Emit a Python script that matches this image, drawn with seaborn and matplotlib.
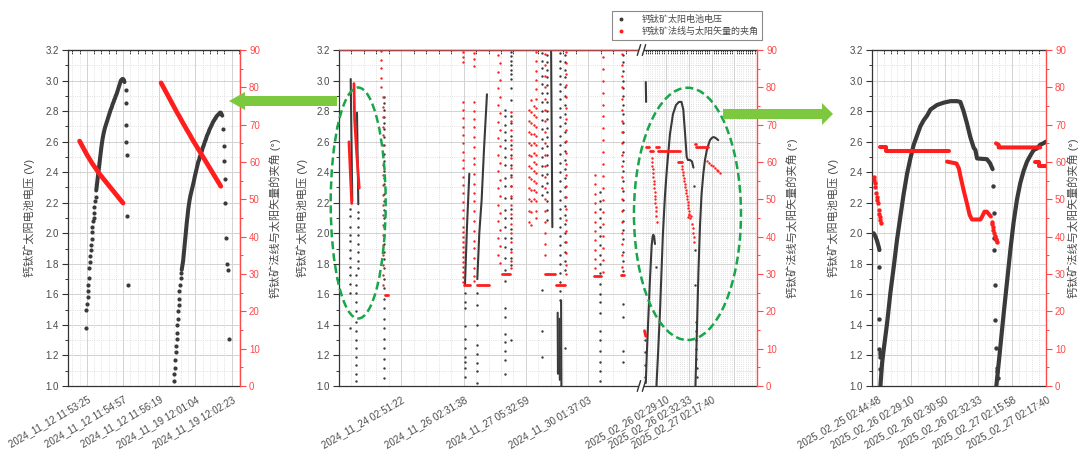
import numpy as np
import matplotlib
matplotlib.use("Agg")
import matplotlib.pyplot as plt
import matplotlib.transforms as mtransforms
import seaborn as sns
from matplotlib.lines import Line2D
from matplotlib.patches import Ellipse, Polygon, Rectangle
from matplotlib.ticker import MultipleLocator, FormatStrFormatter

sns.set_style("white")
plt.rcParams["font.family"] = ["Liberation Sans", "Noto Sans CJK SC"]
plt.rcParams["axes.unicode_minus"] = False

VOLT_LABEL = "钙钛矿太阳电池电压 (V)"
ANGLE_LABEL = "钙钛矿法线与太阳矢量的夹角 (°)"
LEGEND_LABELS = ["钙钛矿太阳电池电压", "钙钛矿法线与太阳矢量的夹角"]

# ---------------- panel 1: 2024-11-12 and 2024-11-19 passes ----------------
p1_ticks = [10, 20, 30, 40, 50]
p1_labels = ["2024_11_12 11:53:25", "2024_11_12 11:54:57", "2024_11_12 11:56:19",
             "2024_11_19 12:01:04", "2024_11_19 12:02:23"]

p1_a_low_x = [9.81, 9.81, 10.0, 10.19, 10.37, 10.37, 10.56, 10.56, 10.74, 10.93, 11.11,
              11.11, 11.30, 11.30, 11.48, 11.67, 11.85, 11.85, 12.04, 12.22, 12.41]
p1_a_low_v = [1.38, 1.50, 1.54, 1.585, 1.62, 1.66, 1.705, 1.77, 1.81, 1.85, 1.89,
              1.92, 1.96, 2.01, 2.04, 2.08, 2.10, 2.135, 2.17, 2.21, 2.24]
p1_a_start, p1_step = 12.6, 0.2
p1_a_v = [2.28, 2.32, 2.36, 2.40, 2.44, 2.48, 2.52, 2.56, 2.595, 2.625,
          2.65, 2.67, 2.69, 2.705, 2.72, 2.735, 2.75, 2.765, 2.78, 2.795,
          2.81, 2.82, 2.835, 2.85, 2.86, 2.875, 2.885, 2.90, 2.91, 2.925,
          2.94, 2.955, 2.97, 2.985, 3.0, 3.005, 3.01, 3.01, 3.005, 2.99]
p1_a_drop_x = [20.74, 20.83, 20.83, 20.93, 21.11, 21.20, 21.48]
p1_a_drop_v = [2.94, 2.85, 2.71, 2.60, 2.51, 2.11, 1.66]

p1_b_low_x = [34.07, 34.17, 34.35, 34.44, 34.54, 34.72, 34.81, 34.91, 35.0, 35.09,
              35.19, 35.37, 35.46, 35.56, 35.74, 35.93, 36.11]
p1_b_low_v = [1.03, 1.08, 1.12, 1.17, 1.22, 1.26, 1.305, 1.35, 1.40, 1.44,
              1.49, 1.53, 1.57, 1.62, 1.66, 1.705, 1.74]
p1_b_start = 36.2
p1_b_v = [1.76, 1.79, 1.82, 1.87, 1.92, 1.97, 2.02, 2.07, 2.11, 2.155,
          2.19, 2.22, 2.245, 2.265, 2.285, 2.305, 2.325, 2.345, 2.37, 2.39,
          2.41, 2.43, 2.45, 2.47, 2.48, 2.50, 2.51, 2.53, 2.54, 2.56,
          2.57, 2.585, 2.60, 2.61, 2.625, 2.64, 2.65, 2.66, 2.675, 2.685,
          2.695, 2.705, 2.715, 2.725, 2.735, 2.74, 2.75, 2.755, 2.765, 2.77,
          2.775, 2.78, 2.785, 2.79, 2.79, 2.78, 2.77]
p1_b_drop_x = [47.69, 47.87, 47.96, 48.06, 48.15, 48.33, 48.70, 48.89, 49.17]
p1_b_drop_v = [2.68, 2.57, 2.47, 2.355, 2.20, 1.97, 1.80, 1.76, 1.31]

p1_ra_start, p1_r_step = 8.0, 0.5
p1_ra_a = [65.6, 64.7, 63.8, 62.9, 62.0, 61.2, 60.4, 59.6, 58.9, 58.2, 57.5, 56.8, 56.2,
           55.6, 55.0, 54.4, 53.8, 53.2, 52.6, 52.0, 51.4, 50.8, 50.2, 49.6, 49.0]
p1_rb_start = 30.5
p1_rb_a = [81.2, 80.3, 79.4, 78.5, 77.6, 76.7, 75.8, 74.9, 74.0, 73.1, 72.3, 71.4,
           70.5, 69.7, 68.8, 68.0, 67.2, 66.3, 65.5, 64.7, 63.9, 63.1, 62.3, 61.5,
           60.7, 59.9, 59.1, 58.3, 57.5, 56.7, 55.9, 55.1, 54.3, 53.5]

# ---------------- panel 2: overview with broken time axis ----------------
p2_ticks = [0, 100, 200, 300, 400, 525, 561.5, 598, 634.5, 671]
p2_labels = ["", "2024_11_24 02:51:22", "2024_11_26 02:31:38", "2024_11_27 05:32:59",
             "2024_11_30 01:37:03", "2025_02_26 02:29:10", "2025_02_26 02:32:33",
             "2025_02_27 02:17:40", "", ""]

# voltage columns (position, values)
mid_bcol_pos = [17, 30.5, 27.5, 73, 201.5, 222, 266, 276, 326, 334, 355, 363, 419, 456]
bc01 = [2.16, 2.11, 2.04, 1.99, 1.95, 1.89, 1.84, 1.78, 1.73, 1.67, 1.61, 1.38]
bc02 = [2.14, 2.10, 2.04, 1.99, 1.93, 1.88, 1.82, 1.77]
bc03 = [1.73, 1.66, 1.61, 1.55, 1.49, 1.42, 1.36, 1.30, 1.25, 1.19, 1.14, 1.08, 1.03]
bc04 = [2.89, 2.85, 2.81, 2.76, 2.72, 2.68, 2.63, 2.58, 2.52, 2.47, 2.41, 2.36, 2.32,
        2.26, 2.21, 2.15, 2.10, 2.04, 1.99, 1.93, 1.88, 1.83, 1.77, 1.70, 1.64, 1.57,
        1.51, 1.44, 1.38, 1.31, 1.25, 1.18, 1.12, 1.05]
bc05 = [1.61, 1.55, 1.51, 1.39, 1.31, 1.25, 1.19, 1.16, 1.12, 1.06]
bc06 = [1.61, 1.53, 1.40, 1.27, 1.21, 1.15, 1.10, 1.02]
bc07 = [2.81, 2.77, 2.71, 2.66, 2.61, 2.56, 2.50, 2.45, 2.36, 2.31, 2.23, 2.15, 2.10,
        2.04, 1.97, 1.91, 1.84, 1.76, 1.69, 1.51, 1.45, 1.34, 1.29, 1.23, 1.17, 1.08]
bc08 = [3.19, 3.16, 3.13, 3.10, 3.07, 3.04, 3.01, 2.95, 2.87, 2.77, 2.72, 2.64, 2.58,
        2.51, 2.45, 2.38, 2.31, 2.23, 2.16, 2.10, 2.03, 1.97, 1.90, 1.84, 1.79, 1.30]
bc09 = [3.18, 3.13, 3.08, 3.03, 2.98, 2.92, 2.86, 2.80, 2.74, 2.68, 2.62, 2.56, 2.50,
        2.44, 2.38, 2.31, 2.25, 1.63, 1.36, 1.19]
bc10 = [3.17, 3.12, 3.07, 3.02, 2.97, 2.92, 2.86, 2.80, 2.75, 2.69, 2.63, 2.57, 2.51,
        2.45, 2.39, 2.33, 2.27, 2.21, 2.15, 2.09]
bc11 = [3.18, 3.13, 3.08, 3.03, 2.98, 2.93, 2.88, 2.82, 2.76, 2.70, 2.64, 2.58, 2.52,
        2.46, 2.40, 2.34, 2.28, 2.22, 2.16, 2.10, 2.04, 1.98, 1.92, 1.86, 1.80, 1.74,
        1.68, 1.62, 1.56, 1.25, 1.19]
bc12 = [3.17, 3.12, 3.07, 3.02, 2.96, 2.90, 2.84, 2.78, 2.72, 2.66, 2.60, 2.54, 2.48,
        2.42, 2.36, 2.30, 2.24, 2.18, 2.12, 2.06, 2.00, 1.94, 1.88, 1.82, 1.76, 1.25]
bc13 = [2.27, 2.21, 2.16, 2.10, 2.04, 1.98, 1.92, 1.86, 1.80, 1.74, 1.67, 1.60, 1.55,
        1.48, 1.36, 1.30, 1.23, 1.16, 1.10, 1.03]
bc14 = [3.17, 3.12, 3.06, 3.00, 2.95, 2.90, 2.84, 2.78, 2.72, 2.66, 2.60, 2.53, 2.47,
        2.41, 2.34, 2.28, 2.22, 2.15, 2.08, 2.02, 1.96, 1.88, 1.82, 1.75, 1.54, 1.45,
        1.23, 1.16]

# dense voltage runs
mid_bl1_x, mid_bl1_v = [18.8, 21.3], [3.01, 2.21]
mid_bl2_x, mid_bl2_v = [28.9, 31.0], [2.79, 2.19]
mid_bl3_x, mid_bl3_v = [202.2, 205.5, 209.2], [1.66, 2.05, 2.39]
mid_bl4_x, mid_bl4_v = [222, 225.2, 229, 232.7, 237, 237.5], [1.70, 2.0, 2.22, 2.545, 2.87, 2.91]
mid_bl5_x, mid_bl5_v = [340.5, 342.5], [3.19, 2.04]
mid_bl6_x, mid_bl6_v = [351, 351.5], [1.48, 1.08]
mid_bl7_x, mid_bl7_v = [354, 354.5], [1.44, 1.04]
mid_bl8_x, mid_bl8_v = [356.5, 357], [1.56, 1.00]
mid_bl9_x, mid_bl9_v = [492.5, 493], [2.99, 2.86]
mid_hump_x = [492.5, 494, 496.5, 499.2, 501.9, 503.5, 504.5, 505.8, 507.2]
mid_hump_v = [1.02, 1.20, 1.44, 1.70, 1.92, 1.98, 1.99, 1.98, 1.93]
mid_arc2_x = [509.6, 512, 515.2, 517.7, 520, 523.3, 526.5, 531.3, 536.1, 541, 545.7,
              549.8, 552.7, 555.4, 558.1, 560, 563.4, 566.6, 569]
mid_arc2_v = [1.0, 1.2, 1.48, 1.75, 2.0, 2.25, 2.43, 2.65, 2.78, 2.84, 2.86,
              2.86, 2.81, 2.66, 2.50, 2.48, 2.48, 2.47, 2.43]
mid_arc3_x = [572.2, 573.8, 575.4, 577, 579.5, 581.9, 584.8, 587.5, 590.2, 593.1, 595.5,
              598.7, 601.1, 604.3, 608.8]
mid_arc3_v = [1.0, 1.25, 1.50, 1.75, 2.05, 2.25, 2.39, 2.48, 2.54, 2.58, 2.61,
              2.625, 2.63, 2.625, 2.61]
mid_bdots_x = [491.0, 491.3, 491.6, 491.9, 508.8, 570.0, 571.0, 571.5, 572.5, 573.0,
               573.2, 573.5, 573.8, 574.0, 574.2]
mid_bdots_v = [1.30, 1.22, 1.14, 1.06, 1.78, 2.31, 1.89, 1.66, 1.42, 1.36,
               1.30, 1.24, 1.18, 1.12, 1.06]

# angle columns (position, values)
mid_rcol_pos = [67, 71, 198.5, 217, 256, 258.5, 276.5, 305, 309, 313, 317, 331, 365, 411, 424, 454]
rc01 = [89.6, 87.3, 85.1, 82.4, 80.2]
rc02 = [77.5, 74.8, 72.1, 69.5, 67.2, 64.6, 61.9, 59.2, 56.5, 53.8, 51.2, 48.5, 45.8,
        43.1, 40.4, 37.8, 35.1, 32.4, 29.7, 27.0]
rc03 = [89.4, 88.0, 86.7, 76.2, 73.9, 71.7, 69.5, 67.2, 65.0, 62.8, 60.5, 58.3, 56.1,
        53.8, 51.6, 49.4, 47.1, 44.9, 42.7, 41.3, 40.0, 38.7, 37.3, 36.0, 34.6, 33.3,
        32.0, 30.6, 29.3, 27.9]
rc04 = [89.3, 87.5, 85.8, 76.0, 73.7, 71.5, 69.3, 66.6, 63.9, 61.2, 59.4, 56.7, 54.0,
        51.8, 49.5, 46.8, 44.1, 41.4, 38.8, 36.9, 34.2, 31.5, 29.5, 28.0]
rc05 = [88.6, 84.2, 79.7, 75.3, 70.8, 66.4, 61.9, 57.5, 53.0, 48.6, 44.1, 39.7, 35.2]
rc06 = [86.4, 82.0, 77.5, 73.1, 68.6, 64.2, 59.7, 55.3, 50.8, 46.4, 41.9, 37.5, 33.0]
rc07 = [73.5, 71.0, 68.5, 66.0, 63.5, 61.0, 58.5, 56.0, 53.5, 51.0, 48.5, 46.0, 43.5,
        41.0, 38.5, 36.0, 33.5, 31.5]
rc08 = [74.0, 71.0, 68.0, 65.0, 62.0, 59.0, 56.0, 53.0, 50.0, 47.0, 44.0]
rc09 = [76.5, 73.5, 70.5, 67.5, 64.5, 61.5, 58.5, 55.5, 52.5, 49.5, 46.5, 43.0]
rc10 = [75.0, 72.5, 70.0, 67.5, 65.0, 62.5, 60.0, 57.5, 55.0, 52.5, 50.0]
rc11 = [89.5, 87.0, 84.5, 82.0, 79.5, 77.0, 74.5, 72.0, 69.5, 67.0, 64.5, 62.0, 59.5,
        57.0, 54.5, 52.0, 49.5, 47.0, 45.0]
rc12 = [89.0, 86.0, 83.0, 80.0, 77.0, 74.0, 71.0, 68.0, 65.0, 62.0, 59.0, 56.0, 53.0,
        50.0, 47.0, 44.0, 41.0, 38.0, 35.0]
rc13 = [89.5, 86.5, 83.5, 80.5, 77.5, 74.5, 71.5, 68.5, 65.5, 62.5, 59.5, 56.5, 53.5,
        50.5, 47.5, 44.5, 41.5, 38.5, 35.5, 32.5, 30.0]
rc14 = [56.5, 54.0, 51.5, 49.0, 46.5, 44.0, 41.5, 39.0, 36.5, 34.0, 31.5]
rc15 = [88.2, 85.0, 81.8, 78.6, 75.4, 72.2, 69.0, 65.8, 62.6, 59.4, 56.2, 53.0, 49.8,
        46.6, 43.4, 40.2, 37.0, 33.8, 30.6]
rc16 = [89.0, 86.0, 83.0, 80.0, 77.0, 74.0, 71.0, 68.0, 65.0, 62.0, 59.0, 56.0, 53.0,
        50.0, 47.0, 44.0, 41.0, 38.0, 35.0, 32.0, 29.8]

# dense angle runs and flat stretches
mid_rl1_x, mid_rl1_a = [16, 20.4], [65.4, 48.9]
mid_rl2_x, mid_rl2_a = [24, 25, 28.5, 32.5], [81.0, 71.5, 62.0, 53.0]
mid_rl3_x, mid_rl3_a = [490.5, 492.5], [14.8, 13.3]
mid_rh_x0 = [74, 200, 221, 262, 331, 349, 410, 452, 492.8, 499.2, 508.8, 512.6, 544.6, 571.4, 573.5]
mid_rh_x1 = [79, 210, 240, 274, 346, 363, 421, 458, 498.2, 504.5, 514.2, 547.4, 550, 573.5, 593]
mid_rh_a = [24.5, 27.0, 27.0, 30.0, 30.0, 27.0, 29.5, 29.8, 64.1, 63.0, 64.1, 63.0, 60.1, 64.9, 63.9]
mid_rd1_x = [502, 502.5, 503, 503.5, 504, 504.5, 505, 505.5, 506, 506.5, 507, 507.5,
             508, 508.5, 509, 509.5, 510]
mid_rd1_a = [61.0, 60.0, 59.0, 58.0, 57.0, 56.0, 55.0, 54.0, 53.0, 52.0, 51.0, 50.0,
             49.0, 48.0, 47.0, 45.5, 44.0]
mid_rd2_x = [550.5, 551.25, 552, 552.75, 553.5, 554.25, 555, 555.75, 556.5, 557.25,
             558, 558.75, 559.5, 560.25, 561, 561.75, 562.5]
mid_rd2_a = [59.0, 58.2, 57.4, 56.6, 55.8, 55.0, 54.2, 53.4, 52.6, 51.8,
             51.0, 50.2, 49.4, 48.6, 47.8, 47.0, 46.2]
mid_rd3_x = [561, 562.5, 564, 565.5, 566.5, 567.5, 568.5, 569.5, 570.5]
mid_rd3_a = [45.2, 45.8, 45.0, 45.6, 43.5, 42.3, 41.0, 39.8, 38.7]
mid_rd4_x = [591, 594, 597, 600, 603, 606, 609, 611.5]
mid_rd4_a = [60.3, 59.8, 59.3, 58.8, 58.3, 57.9, 57.5, 57.1]

# ---------------- panel 3: 2025-02-25 .. 2025-02-27 passes ----------------
p3_ticks = [0, 10, 20, 30, 40, 50]
p3_labels = ["2025_02_25 02:44:48", "2025_02_26 02:29:10", "2025_02_26 02:30:50",
             "2025_02_26 02:32:33", "2025_02_27 02:15:58", "2025_02_27 02:17:40"]

p3_head_x, p3_head_v = [-1.0, -0.5, 0.0, 0.5, 0.7], [2.00, 1.98, 1.95, 1.91, 1.89]
p3_drop1_x = [0.5, 0.6, 0.7, 0.8, 0.9, 1.0, 0.75]
p3_drop1_v = [1.78, 1.44, 1.24, 1.22, 1.21, 1.19, 1.11]
p3_rise1_x = [0.99, 1.48, 1.97, 2.96, 3.94, 4.93, 5.92, 6.9, 7.89, 8.88, 9.86, 10.85,
              11.83, 12.8, 13.8, 14.8, 15.8, 17.75, 19.7, 21.7, 23.7, 24.65, 25.6,
              26.6, 27.6, 28.6, 29.1, 29.6, 32.5, 33.4, 34.2]
p3_rise1_v = [1.00, 1.15, 1.24, 1.41, 1.61, 1.78, 1.96, 2.11, 2.26, 2.39, 2.49, 2.58,
              2.64, 2.70, 2.74, 2.77, 2.81, 2.84, 2.855, 2.865, 2.865, 2.86, 2.80,
              2.72, 2.63, 2.56, 2.545, 2.49, 2.485, 2.46, 2.42]
p3_drop2_x = [34.3, 34.5, 34.7, 34.75, 34.9, 35.0, 35.2, 35.4, 35.5, 35.7]
p3_drop2_v = [2.31, 2.13, 1.97, 1.89, 1.66, 1.43, 1.25, 1.12, 1.10, 1.05]
p3_rise2_x = [35.3, 36.0, 36.5, 37.5, 38.5, 39.45, 40.4, 41.4, 42.4, 43.4, 44.4, 45.4,
              46.35, 47.3, 48.3, 49.3, 50.0]
p3_rise2_v = [1.00, 1.15, 1.26, 1.48, 1.69, 1.89, 2.07, 2.22, 2.33, 2.41, 2.47, 2.51,
              2.545, 2.555, 2.58, 2.59, 2.60]

p3_rhead_x = [-1.0, -0.85, -0.7, -0.55, -0.3, -0.15, 0.0, 0.15, 0.5, 0.65, 0.8, 0.95, 1.1]
p3_rhead_a = [56.1, 55.2, 54.3, 53.4, 51.6, 50.7, 49.8, 48.9, 47.1, 46.2, 45.3, 44.4, 43.6]
p3_rflat1_x, p3_rflat1_a = [0.8, 2.7, 2.7, 21.2], [64.1, 64.1, 63.0, 63.0]
p3_rfall_x = [20.7, 23.5, 24.2, 24.7, 25.6, 26.6, 27.4, 28.1, 30.6, 31.1, 31.8, 32.5, 33.3, 33.7]
p3_rfall_a = [60.1, 59.6, 58.3, 56.1, 52.5, 48.9, 45.8, 44.6, 44.6, 45.4, 46.7, 46.7, 45.8, 45.4]
p3_rtail_x = [34.0, 34.15, 34.3, 34.45, 34.7, 34.85, 35.0, 35.15, 35.3, 35.45]
p3_rtail_a = [44.0, 43.3, 42.6, 41.9, 41.0, 40.3, 39.8, 39.4, 39.0, 38.6]
p3_rflat2_x, p3_rflat2_a = [35.2, 36.0, 36.0, 48.3], [65.0, 64.6, 63.9, 63.9]
p3_rend_x, p3_rend_a = [46.8, 48.0, 48.0, 50.0], [60.1, 60.1, 58.8, 58.8]

# ---------------- styling ----------------
BLACK = "#3a3a3a"
RED = "#ff1e1e"
AXRED = "#ff4a4a"
TEXT = "#4a4a4a"
GREEN_ARROW = "#7cc940"
GREEN_RING = "#19a54a"
W, H = 1081, 457


def dots(ax, x, y, color, size):
    sns.scatterplot(x=np.asarray(x, float), y=np.asarray(y, float), ax=ax, color=color,
                    s=size, linewidth=0, legend=False, zorder=3)


def trace(ax, x, y, color, width):
    sns.lineplot(x=np.asarray(x, float), y=np.asarray(y, float), ax=ax, color=color,
                 lw=width, sort=False, estimator=None, legend=False, zorder=3,
                 solid_capstyle="round")


def uniform(start, step, vals):
    return start + step * np.arange(len(vals))


def style_panel(ax, axr, xlim, major, labels, minor, vlab_x, alab_x):
    ax.set_xlim(*xlim)
    ax.set_ylim(1.0, 3.2)
    axr.set_ylim(0, 90)
    ax.set_xticks(major)
    ax.set_xticklabels(labels)
    ax.set_xticks(minor, minor=True)
    ax.yaxis.set_major_locator(MultipleLocator(0.2))
    ax.yaxis.set_minor_locator(MultipleLocator(0.1))
    ax.yaxis.set_major_formatter(FormatStrFormatter("%.1f"))
    axr.yaxis.set_major_locator(MultipleLocator(10))
    axr.yaxis.set_minor_locator(MultipleLocator(5))
    ax.grid(which="major", color="#d2d2d2", lw=0.7, ls="-")
    ax.grid(which="minor", color="#d6d6d6", lw=0.6, ls=(0, (1, 1.6)))
    axr.grid(False)
    ax.set_axisbelow(True)
    for s in ("left", "bottom", "top"):
        ax.spines[s].set_color("#333333")
        ax.spines[s].set_linewidth(0.9)
    ax.spines["right"].set_visible(False)
    for s in ("left", "bottom", "top"):
        axr.spines[s].set_visible(False)
    axr.spines["right"].set_color(AXRED)
    axr.spines["right"].set_linewidth(1.0)
    ax.tick_params(axis="y", which="major", direction="out", length=4, width=0.8,
                   color="#333333", labelsize=7, labelcolor=TEXT, pad=2.5)
    ax.tick_params(axis="y", which="minor", direction="out", length=2.2, width=0.7,
                   color="#333333")
    ax.tick_params(axis="x", which="major", direction="out", length=4.5, width=0.8,
                   color="#333333", labelsize=7, labelcolor=TEXT, pad=1.5)
    ax.tick_params(axis="x", which="minor", direction="out", length=2.5, width=0.7,
                   color="#333333")
    axr.tick_params(axis="y", which="major", direction="out", length=4, width=0.8,
                    color=AXRED, labelsize=7, labelcolor=AXRED, pad=2.5)
    axr.tick_params(axis="y", which="minor", direction="out", length=2.2, width=0.7,
                    color=AXRED)
    for lab in ax.get_xticklabels():
        lab.set_rotation(30)
        lab.set_ha("right")
        lab.set_rotation_mode("anchor")
    top = ax.secondary_xaxis("top")
    top.set_xticks(major)
    top.set_xticklabels([])
    top.set_xticks(minor, minor=True)
    top.tick_params(which="both", direction="in", length=3, width=0.7, color="#333333")
    top.spines["top"].set_color("#333333")
    ax.set_xlabel("")
    ax.set_ylabel(VOLT_LABEL, fontsize=8, color=TEXT)
    axr.set_ylabel(ANGLE_LABEL, fontsize=8, color=TEXT)
    ax.yaxis.set_label_coords(vlab_x, 0.5)
    axr.yaxis.set_label_coords(alab_x, 0.5)
    return top


fig = plt.figure(figsize=(W / 100, H / 100), dpi=100)
fig.patch.set_facecolor("white")
bottom, height = 1 - 386 / H, 336 / H
ax1 = fig.add_axes([68 / W, bottom, 172 / W, height])
ax2 = fig.add_axes([339 / W, bottom, 418 / W, height])
ax3 = fig.add_axes([872 / W, bottom, 174 / W, height])
ax1r, ax2r, ax3r = ax1.twinx(), ax2.twinx(), ax3.twinx()

# ---- panel 1 marks
dots(ax1, p1_a_low_x, p1_a_low_v, BLACK, 9)
trace(ax1, uniform(p1_a_start, p1_step, p1_a_v), p1_a_v, BLACK, 2.9)
dots(ax1, p1_a_drop_x, p1_a_drop_v, BLACK, 9)
dots(ax1, p1_b_low_x, p1_b_low_v, BLACK, 9)
trace(ax1, uniform(p1_b_start, p1_step, p1_b_v), p1_b_v, BLACK, 2.9)
dots(ax1, p1_b_drop_x, p1_b_drop_v, BLACK, 9)
trace(ax1r, uniform(p1_ra_start, p1_r_step, p1_ra_a), p1_ra_a, RED, 3.4)
trace(ax1r, uniform(p1_rb_start, p1_r_step, p1_rb_a), p1_rb_a, RED, 3.4)

# ---- panel 2 marks
bcols = [bc01, bc02, bc03, bc04, bc05, bc06, bc07, bc08, bc09, bc10, bc11, bc12, bc13, bc14]
for pos, vals in zip(mid_bcol_pos, bcols):
    dots(ax2, np.full(len(vals), pos), vals, BLACK, 3.0)
for xs, vs in [(mid_bl1_x, mid_bl1_v), (mid_bl2_x, mid_bl2_v), (mid_bl3_x, mid_bl3_v),
               (mid_bl4_x, mid_bl4_v), (mid_bl5_x, mid_bl5_v), (mid_bl6_x, mid_bl6_v),
               (mid_bl7_x, mid_bl7_v), (mid_bl8_x, mid_bl8_v), (mid_bl9_x, mid_bl9_v),
               (mid_hump_x, mid_hump_v), (mid_arc2_x, mid_arc2_v), (mid_arc3_x, mid_arc3_v)]:
    trace(ax2, xs, vs, BLACK, 1.5)
dots(ax2, mid_bdots_x, mid_bdots_v, BLACK, 3.0)

rcols = [rc01, rc02, rc03, rc04, rc05, rc06, rc07, rc08, rc09, rc10, rc11, rc12, rc13,
         rc14, rc15, rc16]
for pos, vals in zip(mid_rcol_pos, rcols):
    dots(ax2r, np.full(len(vals), pos), vals, RED, 3.0)
for xs, vs in [(mid_rl1_x, mid_rl1_a), (mid_rl2_x, mid_rl2_a), (mid_rl3_x, mid_rl3_a)]:
    trace(ax2r, xs, vs, RED, 2.0)
for x0, x1, a in zip(mid_rh_x0, mid_rh_x1, mid_rh_a):
    trace(ax2r, [x0, x1], [a, a], RED, 2.0)
for xs, vs in [(mid_rd1_x, mid_rd1_a), (mid_rd2_x, mid_rd2_a), (mid_rd3_x, mid_rd3_a),
               (mid_rd4_x, mid_rd4_a)]:
    dots(ax2r, xs, vs, RED, 3.0)

# ---- panel 3 marks
trace(ax3, p3_head_x, p3_head_v, BLACK, 3.0)
dots(ax3, p3_drop1_x, p3_drop1_v, BLACK, 10)
trace(ax3, p3_rise1_x, p3_rise1_v, BLACK, 3.0)
dots(ax3, p3_drop2_x, p3_drop2_v, BLACK, 10)
trace(ax3, p3_rise2_x, p3_rise2_v, BLACK, 3.0)
dots(ax3r, p3_rhead_x, p3_rhead_a, RED, 10)
trace(ax3r, p3_rflat1_x, p3_rflat1_a, RED, 2.9)
trace(ax3r, p3_rfall_x, p3_rfall_a, RED, 2.9)
dots(ax3r, p3_rtail_x, p3_rtail_a, RED, 10)
trace(ax3r, p3_rflat2_x, p3_rflat2_a, RED, 2.9)
trace(ax3r, p3_rend_x, p3_rend_a, RED, 2.9)

# ---- axes styling
p1_minor = [t for t in range(6, 53, 2) if t not in p1_ticks]
style_panel(ax1, ax1r, (4.8, 52.3), p1_ticks, p1_labels, p1_minor, -0.189, 1.172)

p2_minor = [t for t in range(20, 480, 20) if t not in p2_ticks]
p2_minor += [round(488.5 + 3.65 * k, 2) for k in range(51)]
p2_minor = [t for t in p2_minor if all(abs(t - m) > 0.5 for m in p2_ticks)]
style_panel(ax2, ax2r, (0, 671), p2_ticks, p2_labels, p2_minor, -0.073, 1.071)

p3_minor = [t for t in range(0, 51, 2) if t not in p3_ticks]
style_panel(ax3, ax3r, (-1.5, 50), p3_ticks, p3_labels, p3_minor, -0.1925, 1.121)

# broken-axis marks on panel 2; the 2024 stretch of the top frame is tinted red
blend = mtransforms.blended_transform_factory(ax2.transData, ax2.transAxes)
fig.add_artist(Line2D([0, 481.5], [1.0, 1.0], transform=blend, color="#a84848", lw=0.9,
                      zorder=19))
for yy in (0.0, 1.0):
    fig.add_artist(Rectangle((481.5, yy - 0.012), 8.1, 0.024, transform=blend,
                             facecolor="white", edgecolor="none", zorder=20))
    for cx in (481.5, 489.6):
        fig.add_artist(Line2D([cx - 2.7, cx + 2.7], [yy - 0.016, yy + 0.016], transform=blend,
                              color="#333333", lw=1.0, zorder=21))

# highlight rings on panel 2
for (cx, cy, ew, eh) in [(30.8, 2.198, 88.3, 1.5125), (559.4, 2.127, 171.8, 1.652)]:
    fig.add_artist(Ellipse((cx, cy), ew, eh, transform=ax2.transData, fill=False,
                           edgecolor=GREEN_RING, lw=1.8, ls=(0, (3.2, 1.6)), zorder=22))


# arrows linking the overview to the zoomed panels
def arrow(points_px):
    pts = [(x / W, 1 - y / H) for x, y in points_px]
    fig.add_artist(Polygon(pts, closed=True, transform=fig.transFigure,
                           facecolor=GREEN_ARROW, edgecolor="none", zorder=23))


arrow([(229, 101), (245, 92), (245, 96), (337, 96), (337, 106), (245, 106), (245, 110)])
arrow([(723, 109), (822, 109), (822, 103), (833, 114), (822, 125), (822, 119), (723, 119)])

# legend
handles = [Line2D([], [], ls="", marker="o", markersize=1.8, color=BLACK),
           Line2D([], [], ls="", marker="o", markersize=1.8, color=RED)]
leg = fig.legend(handles, LEGEND_LABELS, loc="upper left",
                 bbox_to_anchor=(612 / W, 1 - 11 / H), bbox_transform=fig.transFigure,
                 fontsize=6.5, frameon=True, fancybox=False, framealpha=1,
                 edgecolor="#8a8a8a", borderpad=0.45, labelspacing=0.35,
                 handletextpad=1.6, handlelength=1.2, borderaxespad=0)
leg.get_frame().set_linewidth(0.8)
for t in leg.get_texts():
    t.set_color(TEXT)

fig.savefig("out.png", dpi=100, facecolor="white")
